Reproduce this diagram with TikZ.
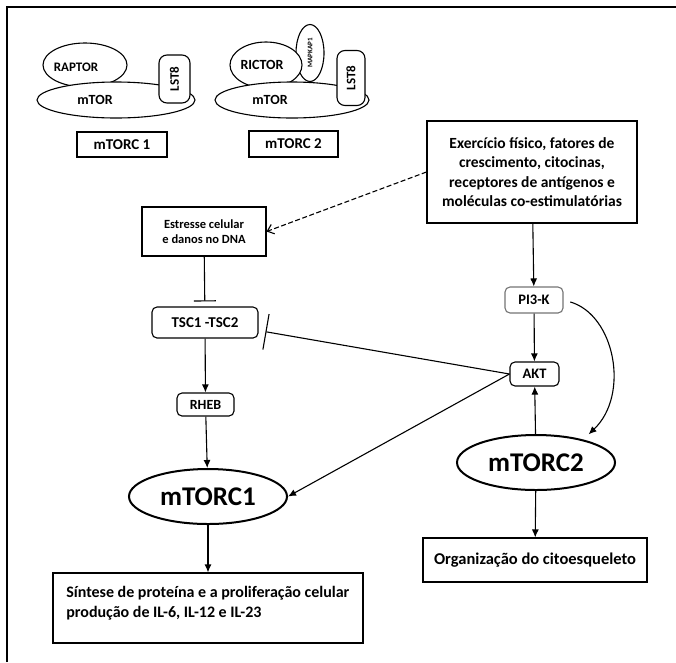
\documentclass[tikz,border=0pt]{standalone}
\usepackage{fontspec}
\setmainfont{Carlito}
\usetikzlibrary{shapes.geometric,arrows.meta}
\tikzset{every path/.style={line width=1.1pt}}
\tikzset{
  txt/.style={font=\fontsize{#1pt}{1.25\dimexpr#1pt\relax}\selectfont\bfseries},
  box/.style={draw, rectangle, inner sep=2pt, align=center},
  rbox/.style={box, rounded corners=5pt},
  blob/.style={draw, ellipse, inner sep=0pt},
  cpx/.style={draw, ellipse, line width=2pt, inner sep=0pt,
    minimum width=158pt, minimum height=55pt, txt=27},
  arr/.style={-{Latex[length=8pt,width=7pt]}},
  inh/.style={-{Bar[width=#1]}}
}

\begin{document}
\begin{tikzpicture}[x=1pt,y=-1pt]
\useasboundingbox (0,0) rectangle (676,662);
\draw[line width=1.4pt] (7,662) -- (7,7) -- (676,7);

\node[blob, minimum width=84pt, minimum height=44pt,
  label={[txt=13,xshift=-9pt,yshift=-2pt]center:RAPTOR}] (raptor) at (85,65) {};
\node[blob, fill=white, minimum width=158pt, minimum height=36pt,
  label={[txt=14,xshift=-21pt]center:mTOR}] (mtorA) at (116,100) {};
\node[rbox, fill=white, rotate=90, rounded corners=8pt, minimum width=48pt,
  minimum height=31pt, txt=13] (lstA) at (174.5,79) {LST8};
\node[box, minimum width=90pt, minimum height=25pt, txt=15] (cA) at (122,144.5) {mTORC 1};

\node[blob, rotate=90, minimum width=57pt, minimum height=28pt,
  font=\fontsize{7}{8}\selectfont\bfseries] (mapkap) at (310,53) {MAPKAP1};
\node[blob, fill=white, minimum width=72pt, minimum height=46pt,
  label={[txt=14,xshift=-4pt]center:RICTOR}] (rictor) at (266,65) {};
\node[blob, fill=white, minimum width=154pt, minimum height=36pt,
  label={[txt=14,xshift=-22pt]center:mTOR}] (mtorB) at (292,100) {};
\node[rbox, fill=white, rotate=90, rounded corners=8pt, minimum width=55pt,
  minimum height=28pt, txt=13] (lstB) at (351,78) {LST8};
\node[box, minimum width=89pt, minimum height=26pt, txt=15] (cB) at (293.5,144) {mTORC 2};

\node[box, minimum width=210pt, minimum height=102pt, txt=15.5] (exer) at (532,172)
  {Exercício físico, fatores de\\crescimento, citocinas,\\receptores de antígenos e\\moléculas co-estimulatórias};
\node[box, minimum width=124pt, minimum height=49pt, txt=12.5] (stress) at (204,231.5)
  {Estresse celular\\e danos no DNA};
\node[rbox, minimum width=106pt, minimum height=31pt, txt=15] (tsc) at (205,322.5) {TSC1 -TSC2};
\node[rbox, minimum width=57pt, minimum height=23pt, txt=14] (rheb) at (205.5,404.5) {RHEB};
\node[cpx] (mtorc1) at (208,496.5) {mTORC1};
\node[box, minimum width=310pt, minimum height=70pt,
  label={[txt=16,align=left,anchor=north west,xshift=10pt,yshift=-10pt]north west:{Síntese de proteína e a proliferação celular\\produção de IL-6, IL-12 e IL-23}}] (sint) at (208,608) {};

\node[rbox, draw=black!55, minimum width=58pt, minimum height=26pt, txt=14.5] (pi3k) at (534,300) {PI3-K};
\node[rbox, minimum width=49pt, minimum height=24pt, txt=14.5] (akt) at (534.5,374) {AKT};
\node[cpx] (mtorc2) at (536,462.5) {mTORC2};
\node[box, minimum width=224pt, minimum height=44pt, txt=16.5] (org) at (535,560) {Organização do citoesqueleto};

\draw[dash pattern=on 5pt off 2.5pt, -{Straight Barb[length=6pt,width=10pt]}] (exer.west) -- (stress.east);
\draw[inh=22pt, shorten >=5pt] (stress) -- (tsc);
\draw[inh=36pt, shorten >=7pt] (akt.west) -- ([yshift=-8pt]tsc.east);
\draw[arr] (exer) -- (pi3k);
\draw[arr] (pi3k) -- (akt);
\draw[arr] (mtorc2) -- (akt);
\draw[arr, shorten <=7pt] (pi3k.east) .. controls (615,315) and (630,395) .. ([xshift=-4pt,yshift=8pt]mtorc2.north east);
\draw[arr] (akt.west) -- (mtorc1.east);
\draw[arr] (tsc) -- (rheb);
\draw[arr] (rheb) -- (mtorc1);
\draw[arr] (mtorc1) -- (sint);
\draw[arr] (mtorc2) -- (org);
\end{tikzpicture}
\end{document}
